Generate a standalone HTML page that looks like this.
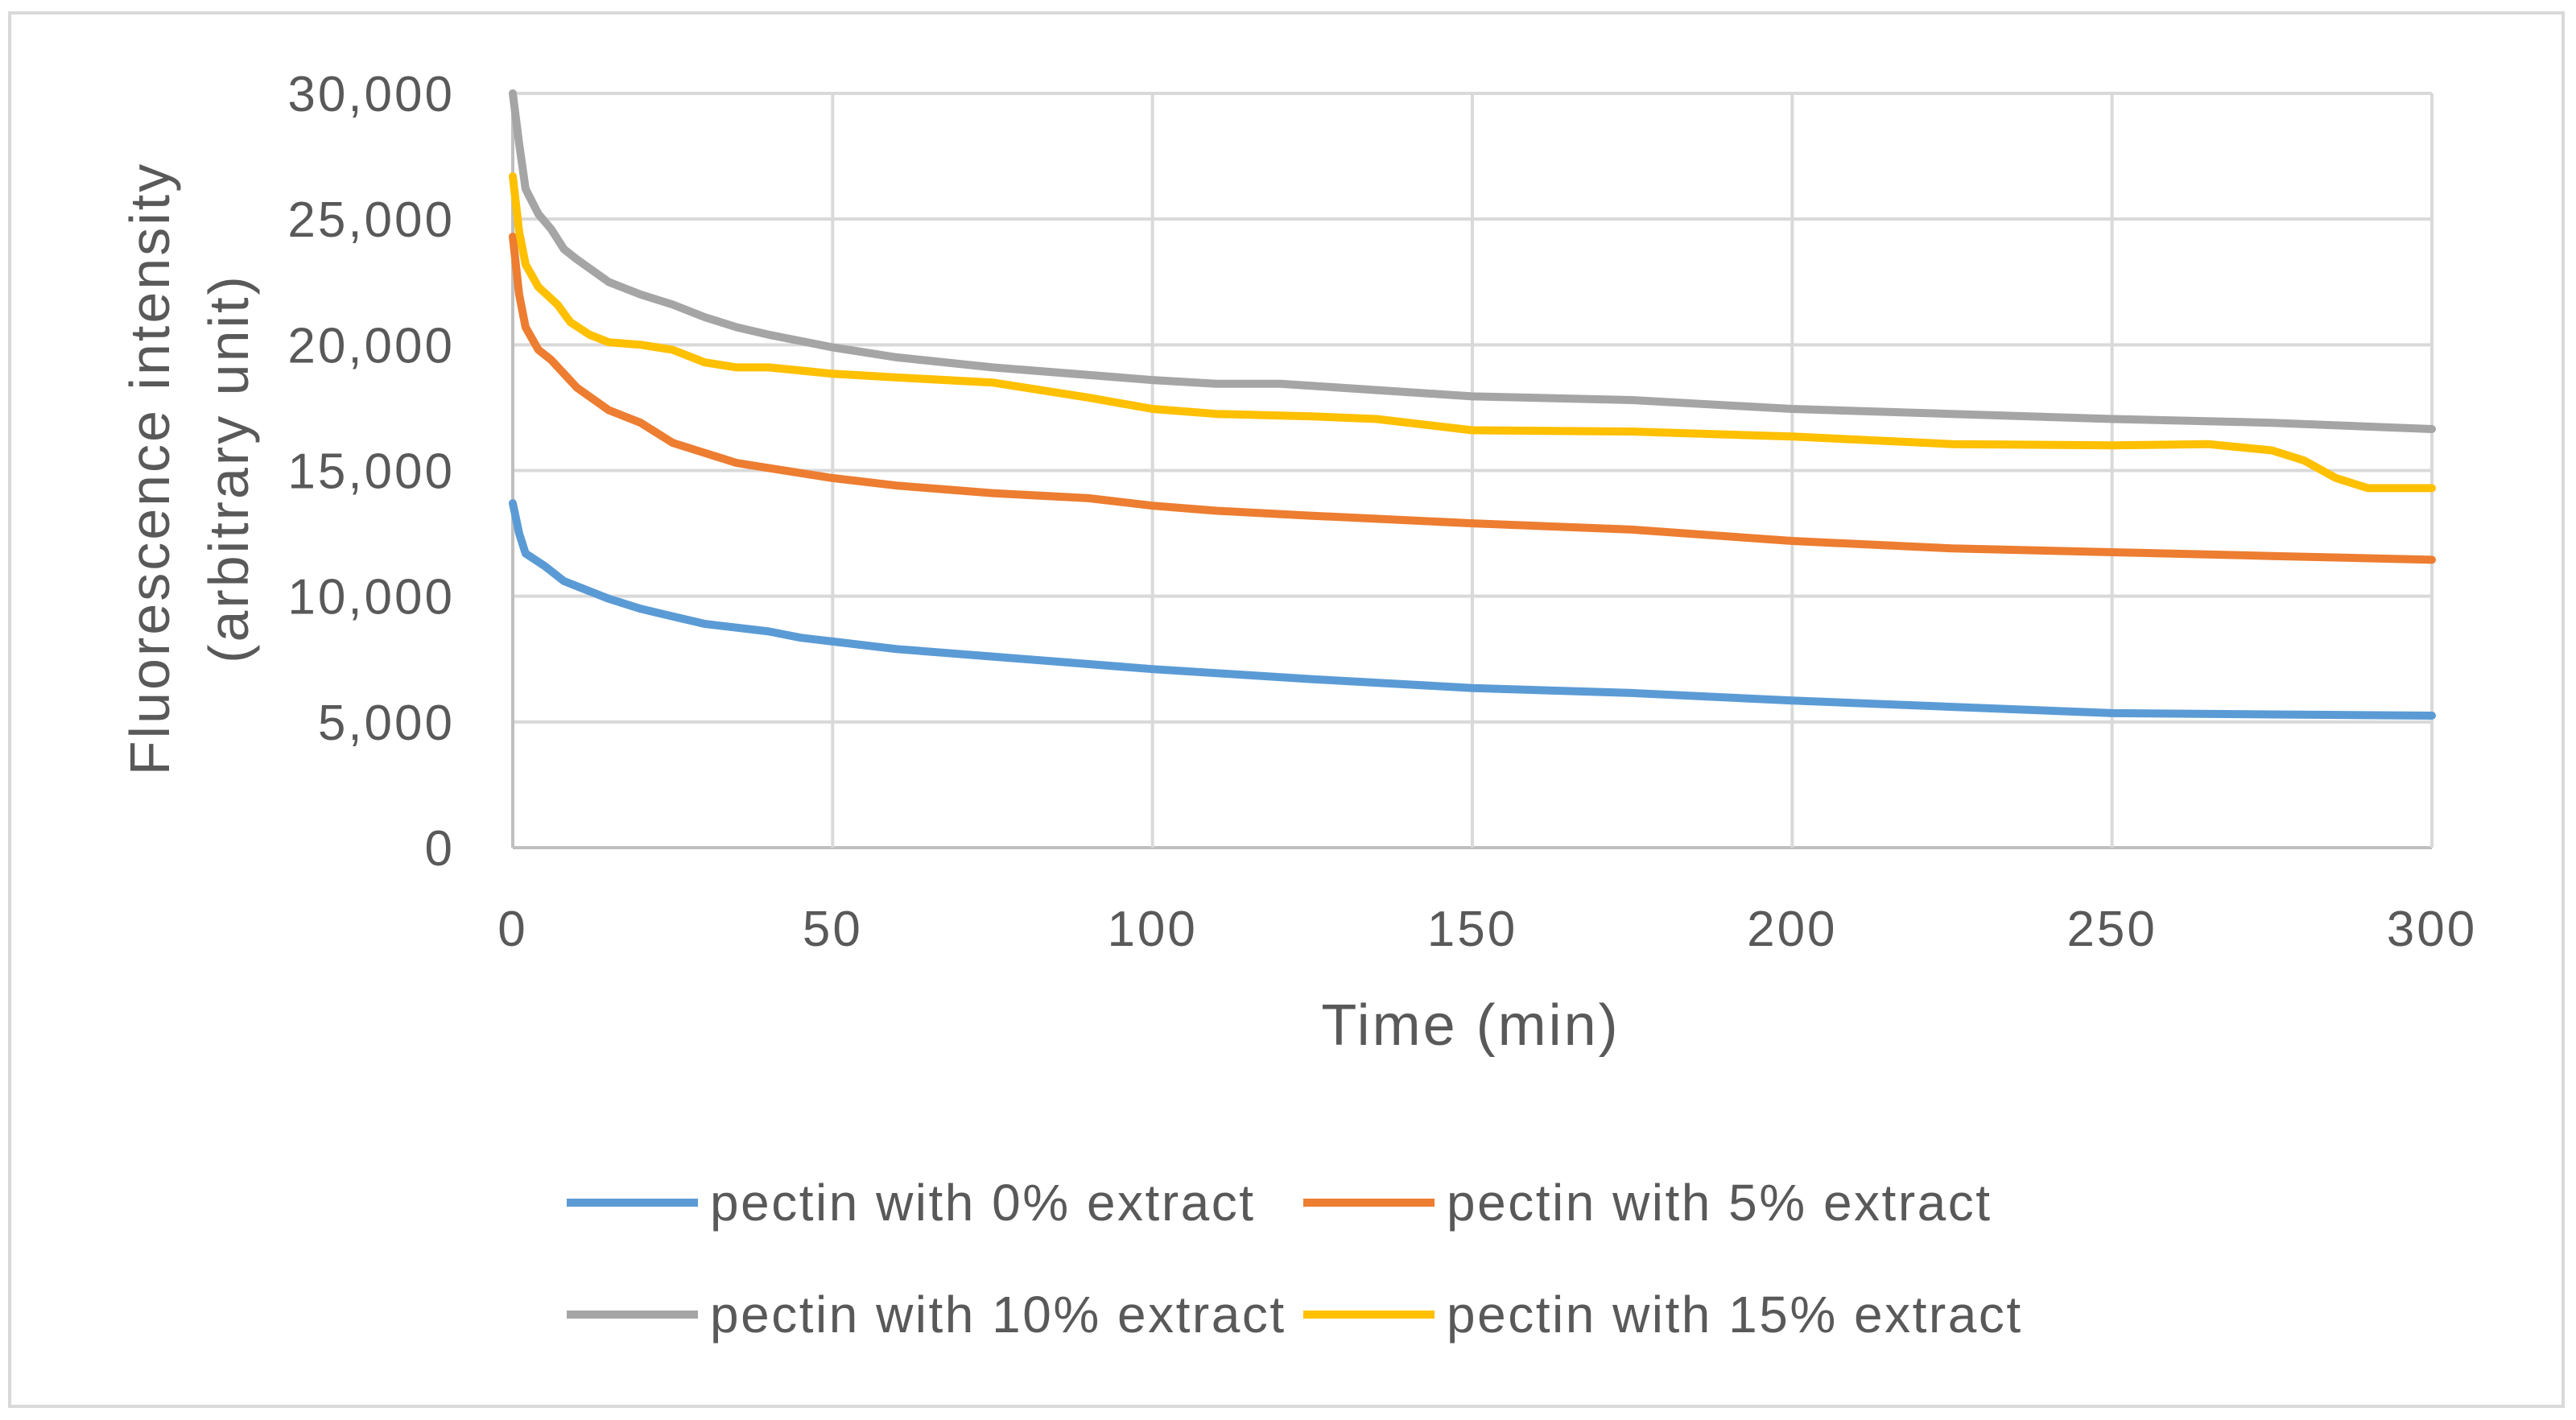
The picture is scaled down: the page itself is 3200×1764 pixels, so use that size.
<!DOCTYPE html>
<html><head><meta charset="utf-8"><style>
html,body{margin:0;padding:0;background:#fff;}
svg{display:block;font-family:"Liberation Sans",sans-serif;}
</style></head><body>
<svg id="chart" width="3200" height="1764" viewBox="0 0 3200 1764">
<rect x="12" y="16" width="3172" height="1731" fill="#fff" stroke="#d9d9d9" stroke-width="4"/>
<g id="grid"></g>
<g id="series"></g>
<g id="labels" fill="#595959"></g>
<text x="1827" y="1298" font-size="72" letter-spacing="3" text-anchor="middle" fill="#595959">Time (min)</text>
<text transform="translate(210,582) rotate(-90)" font-size="70" letter-spacing="3" text-anchor="middle" fill="#595959">Fluorescence intensity</text>
<text transform="translate(308,582) rotate(-90)" font-size="70" letter-spacing="3" text-anchor="middle" fill="#595959">(arbitrary unit)</text>
<g id="legend"></g>
</svg>
<script>
const xTicks=[0,50,100,150,200,250,300];
const yTicks=[0,5000,10000,15000,20000,25000,30000];
const yTickLabels=["0","5,000","10,000","15,000","20,000","25,000","30,000"];
const seriesNames=["pectin with 0% extract","pectin with 5% extract","pectin with 10% extract","pectin with 15% extract"];
const blueT=[0,1,2,5,8,10,15,20,25,30,40,45,50,60,75,100,125,150,175,200,225,250,275,300];
const blueV=[13700,12500,11700,11200,10600,10400,9900,9500,9200,8900,8600,8350,8200,7900,7600,7100,6700,6350,6150,5850,5600,5350,5300,5250];
const orangeT=[0,1,2,4,6,10,15,20,25,30,35,40,50,60,75,90,100,110,125,150,175,200,225,250,275,300];
const orangeV=[24300,22000,20700,19800,19400,18300,17400,16900,16100,15700,15300,15100,14700,14400,14100,13900,13600,13400,13200,12900,12650,12200,11900,11750,11600,11450];
const grayT=[0,1,2,4,6,8,10,15,20,25,30,35,40,50,60,75,100,110,120,150,175,200,225,250,275,300];
const grayV=[30000,28000,26200,25200,24600,23800,23400,22500,22000,21600,21100,20700,20400,19900,19500,19100,18600,18450,18450,17950,17800,17450,17250,17050,16900,16650];
const yellowT=[0,1,2,4,7,9,12,15,20,25,30,35,40,50,60,75,80,90,100,110,125,135,150,175,200,225,250,265,275,280,285,290,300];
const yellowV=[26700,24500,23200,22300,21600,20900,20400,20100,20000,19800,19300,19100,19100,18850,18700,18500,18300,17900,17450,17250,17150,17050,16600,16550,16350,16050,16000,16050,15800,15400,14700,14300,14300];
const colors=["#5B9BD5","#ED7D31","#A5A5A5","#FFC000"];
const X0=637,X1=3021,Y0=1053,Y1=116;
const xs=t=>X0+(t/300)*(X1-X0);
const ys=v=>Y0-(v/30000)*(Y0-Y1);
const NS="http://www.w3.org/2000/svg";
function mk(tag,attrs,parent){const e=document.createElementNS(NS,tag);for(const k in attrs)e.setAttribute(k,attrs[k]);parent.appendChild(e);return e;}
const grid=document.getElementById('grid'),lab=document.getElementById('labels');
yTicks.forEach((v,i)=>{
  const l=mk('line',{x1:X0,x2:X1,y1:ys(v),y2:ys(v),stroke:i===0?'#bfbfbf':'#d9d9d9','stroke-width':4},grid);
  
  
  const t=mk('text',{x:565,y:ys(v)+22,'font-size':62,'letter-spacing':3,'text-anchor':'end'},lab);
  t.textContent=yTickLabels[i];
  
  
});
xTicks.forEach((v,i)=>{
  const l=mk('line',{x1:xs(v),x2:xs(v),y1:Y1,y2:Y0,stroke:i===0?'#bfbfbf':'#d9d9d9','stroke-width':4},grid);
  
  
  const t=mk('text',{x:xs(v),y:1175,'font-size':62,'letter-spacing':3,'text-anchor':'middle'},lab);
  t.textContent=String(v);
  
  
});
const ser=document.getElementById('series');
const all=[[blueT,blueV],[orangeT,orangeV],[grayT,grayV],[yellowT,yellowV]];
const order=[0,1,3,2];
order.forEach(i=>{
  const [T,V]=all[i];
  const pts=T.map((t,j)=>xs(t).toFixed(1)+','+ys(V[j]).toFixed(1)).join(' ');
  const p=mk('polyline',{points:pts,fill:'none',stroke:colors[i],'stroke-width':10,'stroke-linejoin':'round','stroke-linecap':'round'},ser);
  
  
});
const leg=document.getElementById('legend');
const lx=[704,1619],ly=[1494,1633];
seriesNames.forEach((n,i)=>{
  const cx=lx[i%2],cy=ly[Math.floor(i/2)];
  const l=mk('line',{x1:cx,x2:cx+163,y1:cy,y2:cy,stroke:colors[i],'stroke-width':10},leg);
  
  
  const t=mk('text',{x:cx+178,y:cy+22,'font-size':64,'letter-spacing':2.5,fill:'#595959'},leg);
  t.textContent=n;
  
  
});
</script>
</body></html>
